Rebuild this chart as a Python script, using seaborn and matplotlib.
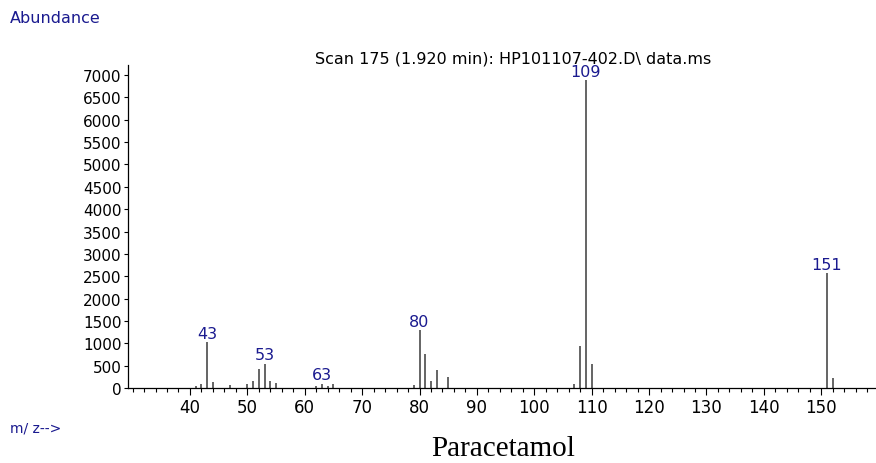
import numpy as np
import pandas as pd
import matplotlib.pyplot as plt
import seaborn as sns
from matplotlib.ticker import MultipleLocator

# m/z values and abundances
mz = [41, 42, 43, 44, 47, 50, 51, 52, 53, 54, 55, 62, 63, 64, 65,
      79, 80, 81, 82, 83, 85, 107, 108, 109, 110, 151, 152]
abundance = [45, 100, 1030, 135, 75, 80, 155, 430, 545, 150, 120, 52, 97, 52, 97,
             75, 1290, 770, 150, 395, 240, 97, 940, 6880, 545, 2575, 225]
labelled = [43, 53, 63, 80, 109, 151]

df = pd.DataFrame({'mz': mz, 'abundance': abundance})

sns.set_style('ticks')
plt.rcParams['font.family'] = ['DejaVu Sans']
plt.rcParams['text.color'] = 'black'
plt.rcParams['xtick.color'] = 'black'
plt.rcParams['ytick.color'] = 'black'

azul = '#1a1a8f'

fig = plt.figure(figsize=(8.76, 4.64), dpi=100)
ax = fig.add_axes([0.1461, 0.1616, 0.853, 0.6962])

# espectro em linhas verticais
ax.vlines(df['mz'], 0, df['abundance'], color='#3a3a3a', linewidth=1.1)

for m in labelled:
    a = df.loc[df['mz'] == m, 'abundance'].iloc[0]
    ax.annotate(str(m), (m, a), xytext=(0, 1), textcoords='offset points',
                ha='center', va='bottom', color=azul, fontsize=11.5)

ax.set_xlim(29.2, 159.4)
ax.set_ylim(0, 7226)
ax.xaxis.set_major_locator(MultipleLocator(10))
ax.xaxis.set_minor_locator(MultipleLocator(2))
ax.set_xticks(np.arange(40, 151, 10))
ax.set_yticks(np.arange(0, 7001, 500))

ax.tick_params(axis='x', which='major', length=5, width=0.8, labelsize=12, pad=2)
ax.tick_params(axis='x', which='minor', length=3, width=0.8)
ax.tick_params(axis='y', which='major', length=3, width=0.8, labelsize=11, pad=1.5)

sns.despine(ax=ax)
ax.spines['left'].set_linestyle((0, (1, 1)))
ax.spines['left'].set_linewidth(0.9)
ax.spines['bottom'].set_linewidth(0.9)
ax.spines['left'].set_color('black')
ax.spines['bottom'].set_color('black')

fig.text(0.586, 0.873, r'Scan 175 (1.920 min): HP101107-402.D\ data.ms',
         ha='center', va='center', fontsize=11.5)
fig.text(0.011, 0.961, 'Abundance', ha='left', va='center', color=azul, fontsize=11.5)
fig.text(0.011, 0.077, 'm/ z-->', ha='left', va='center', color=azul, fontsize=10)
fig.text(0.574, 0.032, 'Paracetamol', ha='center', va='center',
         family='Liberation Serif', fontsize=21)

plt.savefig('out.png', dpi=100)
